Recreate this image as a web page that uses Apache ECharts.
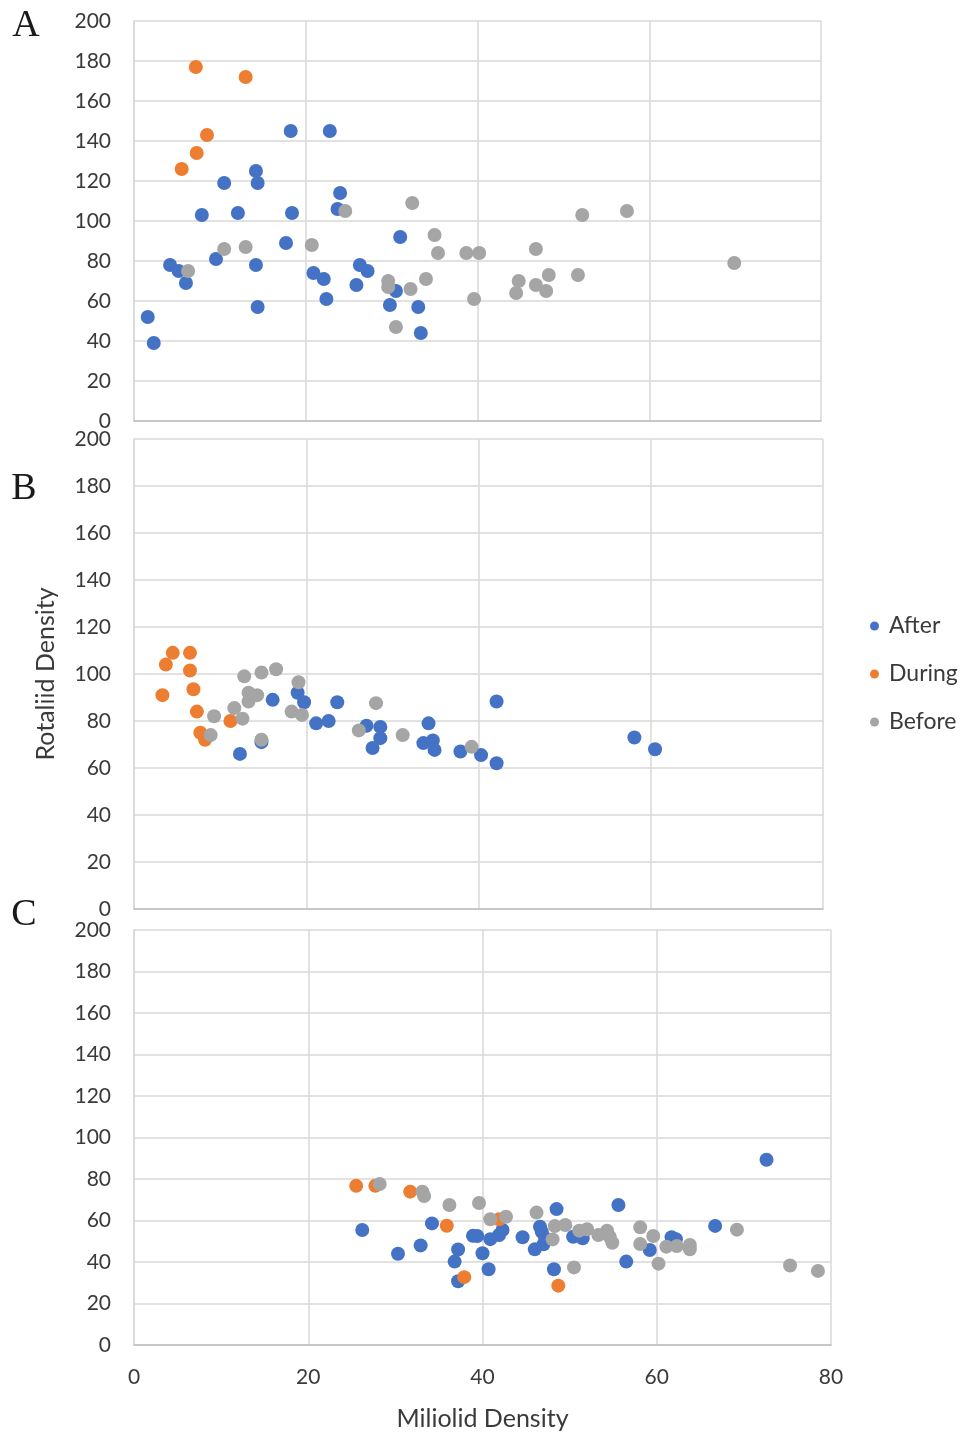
<!DOCTYPE html>
<html>
<head>
<meta charset="utf-8">
<title>Rotaliid vs Miliolid Density</title>
<script src="https://cdn.jsdelivr.net/npm/echarts@6/dist/echarts.min.js"></script>
<style>
  html, body { margin: 0; padding: 0; background: #ffffff; }
  #chart { width: 964px; height: 1435px; }
</style>
</head>
<body>
<div id="chart"></div>
<script>
// Axis ranges shared by all three panels
const xMax = 80, xStep = 20;
const yMax = 200, yStep = 20;

const seriesNames = ['After', 'During', 'Before'];
const seriesColors = ['#4472C4', '#ED7D31', '#A5A5A5'];
const panelLabels = ['A', 'B', 'C'];

// Panel A: [Miliolid density, Rotaliid density]
const aAfter = [
  [1.6, 52], [2.3, 39], [4.2, 78], [5.2, 75], [6.05, 69], [7.9, 103], [9.55, 81],
  [10.5, 119], [12.1, 104], [14.2, 125], [14.4, 119], [14.2, 78], [14.4, 57],
  [18.25, 145], [18.4, 104], [17.7, 89], [22.8, 145], [20.9, 74], [22.1, 71],
  [22.4, 61], [24.0, 114], [23.7, 106], [26.3, 78], [27.2, 75], [25.9, 68],
  [31.0, 92], [30.5, 65], [29.8, 58], [33.1, 57], [33.4, 44]
];
const aDuring = [[7.2, 177], [13.0, 172], [8.5, 143], [7.3, 134], [5.55, 126]];
const aBefore = [
  [6.3, 75], [10.5, 86], [13.0, 87], [20.7, 88], [24.6, 105], [29.6, 70], [29.6, 67],
  [30.5, 47], [32.4, 109], [32.2, 66], [34.0, 71], [35.0, 93], [35.4, 84], [38.7, 84],
  [40.2, 84], [39.6, 61], [46.8, 86], [44.8, 70], [44.5, 64], [46.8, 68], [48.0, 65],
  [48.3, 73], [51.7, 73], [52.2, 103], [57.4, 105], [69.9, 79]
];

// Panel B
const bAfter = [
  [12.3, 66], [14.8, 71], [16.1, 89], [19.0, 92], [19.75, 88], [21.15, 79], [22.6, 80],
  [23.6, 88], [27.0, 78], [28.6, 77.5], [28.6, 72.7], [27.7, 68.5], [34.2, 79],
  [33.6, 70.6], [34.7, 71.7], [34.9, 67.7], [37.9, 67], [40.3, 65.5], [42.1, 62],
  [42.1, 88.3], [58.1, 73], [60.5, 68]
];
const bDuring = [
  [3.3, 91], [3.7, 104], [4.5, 109], [6.5, 109], [6.5, 101.5], [6.9, 93.5], [7.3, 84],
  [7.7, 75], [8.25, 72], [11.2, 80]
];
const bBefore = [
  [8.9, 74], [9.3, 82], [11.65, 85.5], [12.6, 81], [12.8, 99], [13.3, 92], [13.3, 88.3],
  [14.3, 91], [14.8, 100.6], [16.5, 102], [14.8, 72], [18.3, 84], [19.1, 96.5],
  [19.5, 82.6], [26.1, 76], [28.1, 87.6], [31.2, 74], [39.2, 69]
];

// Panel C
const cAfter = [
  [26.2, 55.4], [30.3, 44], [32.9, 48], [34.2, 58.6], [36.8, 40.2], [37.2, 46], [37.2, 30.7],
  [38.9, 52.6], [39.4, 52.5], [40.0, 44.2], [40.7, 36.5], [40.9, 51], [41.9, 53], [42.3, 55.4],
  [44.6, 51.9], [46.0, 46.1], [46.6, 57], [46.8, 54.6], [47.0, 48.5], [47.2, 51.5], [48.5, 65.5],
  [48.2, 36.5], [50.4, 52.2], [51.5, 51.4], [55.6, 67.5], [56.5, 40.2], [59.2, 45.8],
  [61.7, 51.9], [62.2, 51], [66.7, 57.4], [72.6, 89.3]
];
const cDuring = [
  [25.5, 76.7], [27.7, 76.7], [31.7, 73.9], [35.9, 57.5], [37.9, 32.7], [41.9, 60.6], [48.7, 28.6]
];
const cBefore = [
  [28.2, 77.6], [33.1, 73.9], [33.3, 71.8], [36.2, 67.5], [39.6, 68.4], [40.9, 60.6], [42.7, 61.8],
  [46.2, 63.8], [48.05, 50.9], [48.3, 57.3], [49.5, 57.8], [50.5, 37.4], [51.1, 55.1], [52.0, 55.8],
  [53.3, 53], [54.3, 55.1], [54.6, 52.2], [54.9, 49.3], [58.1, 56.7], [58.1, 48.7], [59.6, 52.5],
  [60.2, 39.2], [61.1, 47.4], [62.3, 47.7], [63.8, 48.2], [63.8, 46.1], [69.2, 55.6],
  [75.3, 38.3], [78.5, 35.7]
];

const panels = [
  [aAfter, aDuring, aBefore],
  [bAfter, bDuring, bBefore],
  [cAfter, cDuring, cBefore]
];

// Plot rectangles (px) for the three stacked panels
const grids = [
  { left: 134, top: 21, width: 687, height: 400 },
  { left: 134, top: 439, width: 689, height: 470 },
  { left: 134, top: 930, width: 697, height: 415 }
];

const FONT = 'Lato';
const TEXT = '#3a3a3a';
const GRID_LINE = '#d9d9d9';

const xAxes = grids.map((g, i) => ({
  type: 'value', gridIndex: i, min: 0, max: xMax, interval: xStep,
  axisLine: { show: true, lineStyle: { color: '#bfbfbf', width: 1.5 } },
  axisTick: { show: false },
  splitLine: { show: true, lineStyle: { color: GRID_LINE, width: 1.5 } },
  axisLabel: { show: i === 2, fontFamily: FONT, fontSize: 21, color: TEXT, margin: 22 },
  name: i === 2 ? 'Miliolid Density' : '',
  nameLocation: 'middle', nameGap: 61,
  nameTextStyle: { fontFamily: FONT, fontSize: 25, color: TEXT }
}));

const yAxes = grids.map((g, i) => ({
  type: 'value', gridIndex: i, min: 0, max: yMax, interval: yStep,
  axisLine: { show: true, lineStyle: { color: GRID_LINE, width: 1.5 } },
  axisTick: { show: false },
  splitLine: { show: true, lineStyle: { color: GRID_LINE, width: 1.5 } },
  axisLabel: { fontFamily: FONT, fontSize: 21, color: TEXT, margin: 23 },
  name: i === 1 ? 'Rotaliid Density' : '',
  nameLocation: 'middle', nameGap: 76,
  nameTextStyle: { fontFamily: FONT, fontSize: 25, color: TEXT }
}));

const series = [];
panels.forEach((sets, p) => {
  sets.forEach((data, k) => {
    series.push({
      name: seriesNames[k],
      type: 'scatter',
      xAxisIndex: p, yAxisIndex: p,
      data: data,
      symbol: 'circle',
      symbolSize: 14,
      itemStyle: { color: seriesColors[k], opacity: 1 },
      z: 2 + k
    });
  });
});

// Panel letters beside each plot
const letterPos = [[26, 26], [24, 489], [24, 915]];

const chart = echarts.init(document.getElementById('chart'), null, { renderer: 'canvas' });
chart.setOption({
  animation: false,
  backgroundColor: '#ffffff',
  color: seriesColors,
  grid: grids.map(g => Object.assign({ containLabel: false }, g)),
  xAxis: xAxes,
  yAxis: yAxes,
  legend: {
    data: seriesNames,
    orient: 'vertical',
    left: 865, top: 609,
    icon: 'circle', itemWidth: 9, itemHeight: 9, itemGap: 24,
    textStyle: { fontFamily: FONT, fontSize: 23, color: TEXT, lineHeight: 24, padding: [0, 0, 0, 5] }
  },
  graphic: panelLabels.map((t, i) => ({
    type: 'text', x: letterPos[i][0], y: letterPos[i][1],
    style: {
      text: t, align: 'center', verticalAlign: 'middle',
      font: '38px "Liberation Serif", "DejaVu Serif", serif', fill: '#1a1a1a'
    }
  })),
  series: series
});
</script>
</body>
</html>
